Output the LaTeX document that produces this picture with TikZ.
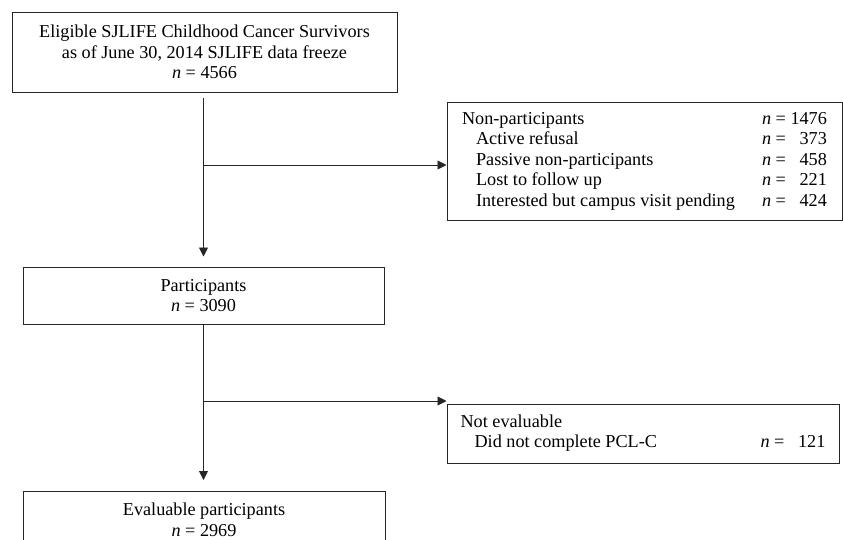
\documentclass[tikz,border=0pt]{standalone}
\usepackage{fontspec}
\setmainfont{Liberation Serif}
\usetikzlibrary{positioning,calc,arrows.meta}

\begin{document}
\begin{tikzpicture}[x=1pt, y=-1pt,
		box/.style={draw=black!85, line width=1pt, inner sep=0pt, font=\fontsize{18.2}{20.5}\selectfont},
		flow/.style={draw=black!85, line width=0.9pt, -{Triangle[length=9pt,width=9pt]}}]
	\useasboundingbox (0,0) rectangle (843,539);
	\clip (0,0) rectangle (843,539);
	\node[name=elig, box, minimum width=385pt, minimum height=80pt, align=center] at (204.5,52) {Eligible SJLIFE Childhood Cancer Survivors\\ as of June 30, 2014 SJLIFE data freeze\\ \textit{n} = 4566};
	\node[name=part, box, minimum width=361pt, minimum height=57pt, align=center] at (203.5,295.5) {Participants\\ \textit{n} = 3090};
	\node[name=eval, box, minimum width=362pt, minimum height=57pt, align=center] at (204,520) {Evaluable participants\\ \textit{n} = 2969};
	\node[name=nonpart, box, minimum width=395pt, minimum height=118pt] at (644.5,161) {\begin{tabular}{@{}p{300pt}@{}l@{\ }r@{}}
			Non-participants & \textit{n} = & 1476\\
			\hspace*{14pt}Active refusal & \textit{n} = & 373\\
			\hspace*{14pt}Passive non-participants & \textit{n} = & 458\\
			\hspace*{14pt}Lost to follow up & \textit{n} = & 221\\
			\hspace*{14pt}Interested but campus visit pending & \textit{n} = & 424
		\end{tabular}};
	\node[name=noteval, box, minimum width=392pt, minimum height=59pt] at (643,433.5) {\begin{tabular}{@{}p{300pt}@{}l@{\ }r@{}}
			Not evaluable & & \\
			\hspace*{14pt}Did not complete PCL-C & \textit{n} = & \hphantom{1}121
		\end{tabular}};
	% main flow
	\draw[flow, shorten <=5pt, shorten >=10pt] (part.north |- elig.south) -- (part.north);
	\draw[flow, shorten >=11pt] (part.south) -- (part.south |- eval.north);
	% exclusions
	\coordinate (br1) at (203.5,165);
	\coordinate (br2) at (203.5,401);
	\draw[flow] (br1) -- (br1 -| nonpart.west);
	\draw[flow] (br2) -- (br2 -| noteval.west);
\end{tikzpicture}
\end{document}
